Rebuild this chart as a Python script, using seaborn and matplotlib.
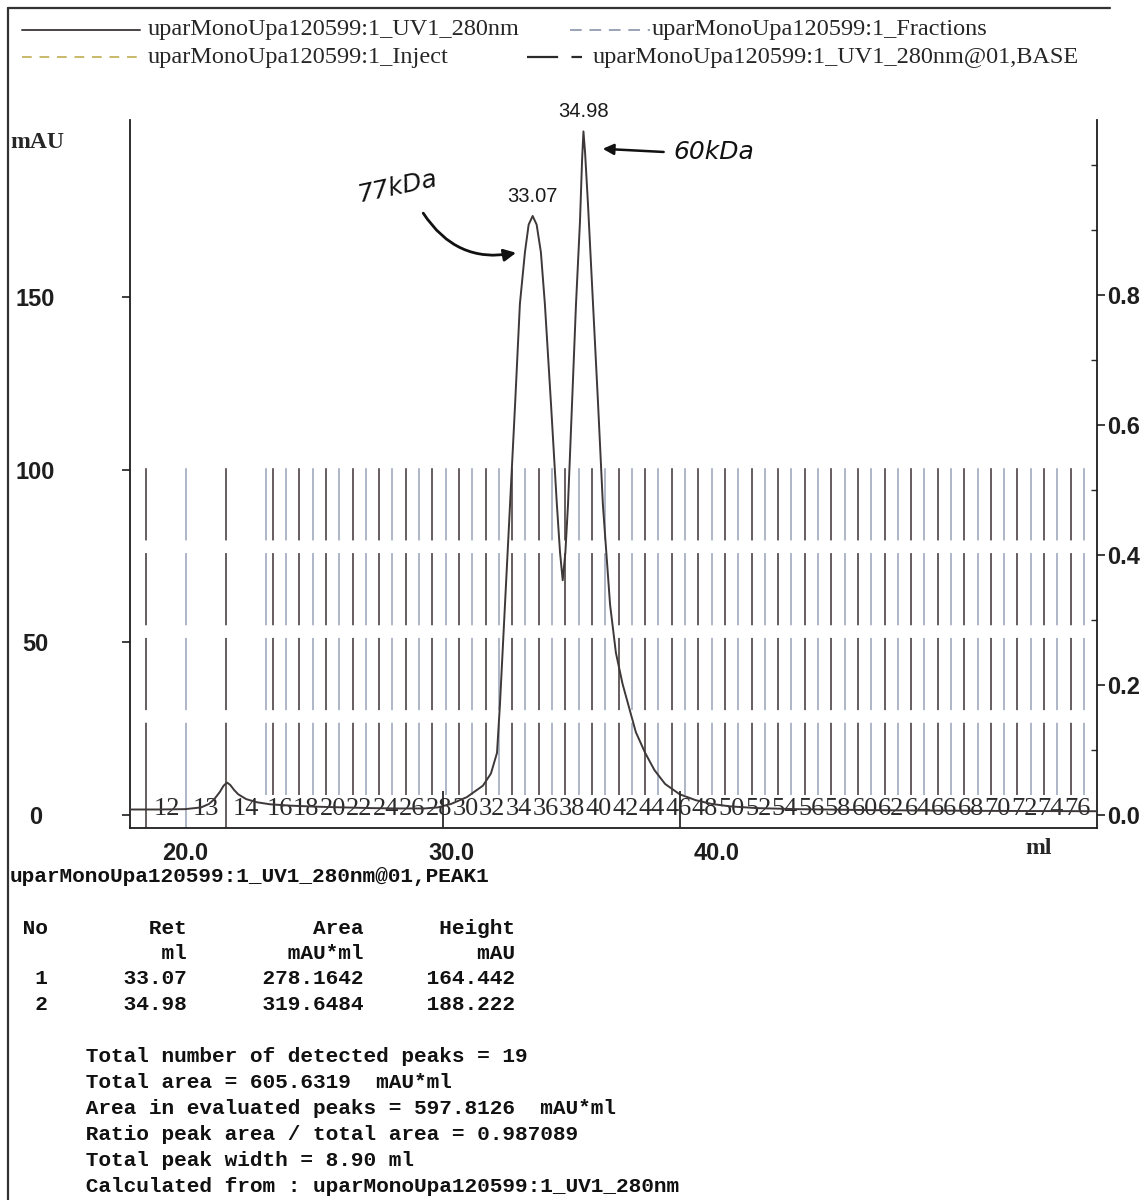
import matplotlib
matplotlib.use("Agg")
import matplotlib.pyplot as plt
import seaborn as sns
import pandas as pd
from matplotlib.lines import Line2D
from matplotlib.ticker import MultipleLocator, FixedLocator

# ---------------- data ----------------
volume_ml = [17.93, 19.0, 20.0, 20.6, 20.9, 21.1, 21.3, 21.45, 21.58, 21.7, 21.85,
             22.0, 22.3, 22.7, 23.2, 24.0, 25.0, 26.0, 27.0, 28.0, 29.0, 29.5,
             30.0, 30.6, 31.2, 31.5, 31.73, 31.84, 32.03, 32.22, 32.41, 32.59,
             32.78, 32.92, 33.07, 33.22, 33.38, 33.53, 33.76, 33.98, 34.1, 34.2,
             34.3, 34.4, 34.55, 34.7, 34.85, 34.93, 34.98, 35.04, 35.15, 35.34,
             35.53, 35.71, 35.98, 36.2, 36.45, 36.7, 36.95, 37.3, 37.65, 38.05,
             38.6, 39.2, 39.8, 40.5, 41.5, 43.0, 46.0, 50.0, 54.29]
uv_mAU = [1.6, 1.6, 1.7, 2.2, 3.2, 4.6, 6.6, 8.5, 9.4, 8.7, 7.2,
          6.0, 4.6, 3.7, 3.1, 2.7, 2.4, 2.2, 2.0, 1.9, 1.9, 2.2,
          3.2, 5.2, 8.5, 12.0, 18.0, 32.0, 61.0, 90.0, 119.0, 148.0,
          163.0, 171.0, 173.5, 171.0, 163.0, 148.0, 119.0, 90.0, 76.0, 68.0,
          76.0, 90.0, 119.0, 148.0, 172.0, 190.0, 198.0, 192.0, 177.0, 148.0,
          119.0, 90.0, 61.0, 47.0, 38.0, 31.0, 24.0, 18.0, 13.0, 9.0,
          6.0, 4.3, 3.2, 2.5, 2.0, 1.7, 1.4, 1.2, 1.1]

fraction_edges_ml = [18.55, 20.05, 21.55, 23.05,
                     23.30, 23.80, 24.30, 24.80, 25.30, 25.80, 26.30, 26.80,
                     27.30, 27.80, 28.30, 28.80, 29.30, 29.80, 30.30, 30.80,
                     31.30, 31.80, 32.30, 32.80, 33.30, 33.80, 34.30, 34.80,
                     35.30, 35.80, 36.30, 36.80, 37.30, 37.80, 38.30, 38.80,
                     39.30, 39.80, 40.30, 40.80, 41.30, 41.80, 42.30, 42.80,
                     43.30, 43.80, 44.30, 44.80, 45.30, 45.80, 46.30, 46.80,
                     47.30, 47.80, 48.30, 48.80, 49.30, 49.80, 50.30, 50.80,
                     51.30, 51.80, 52.30, 52.80, 53.30, 53.80]
first_fraction = 12
labelled_fractions = [12, 13, 14, 16, 18, 20, 22, 24, 26, 28, 30, 32, 34, 36, 38,
                      40, 42, 44, 46, 48, 50, 52, 54, 56, 58, 60, 62, 64, 66, 68,
                      70, 72, 74, 76]
fraction_mark_height = 0.545

integration_limits_ml = [29.70, 38.60]

peak_ret = ["33.07", "34.98"]
peak_x = [33.07, 34.98]
peak_top_mAU = [173.5, 198.0]
peak_area = ["278.1642", "319.6484"]
peak_height = ["164.442", "188.222"]

y_ticks_left = [0, 50, 100, 150]
y_ticks_right = [0.0, 0.2, 0.4, 0.6, 0.8]
x_ticks = [20, 30, 40, 50]
x_ticklabels = ["20.0", "30.0", "40.0", ""]

legend_names = ["uparMonoUpa120599:1_UV1_280nm", "uparMonoUpa120599:1_Fractions",
                "uparMonoUpa120599:1_Inject", "uparMonoUpa120599:1_UV1_280nm@01,BASE"]

# ---------------- styling ----------------
sns.set_style("white")
plt.rcParams["font.family"] = ["Liberation Serif", "DejaVu Sans"]

W, H = 1148, 1200
fig = plt.figure(figsize=(W / 100, H / 100), dpi=100)
fig.patch.set_facecolor("white")

def fx(px):
    return px / W

def fy(py):
    return 1 - py / H

ax_l, ax_r, ax_t, ax_b = 130, 1097, 120, 828
ax = fig.add_axes([fx(ax_l), fy(ax_b), (ax_r - ax_l) / W, (ax_b - ax_t) / H])
ax2 = ax.twinx()

TRACE = "#3e3838"
AXC = "#1e1e1e"

# fractions (right axis)
dark = "#5b5052"
light = "#a7b0c4"
for i, e in enumerate(fraction_edges_ml):
    col = dark if i % 2 == 0 else light
    ax2.vlines(e, 0.03, fraction_mark_height, colors=col,
               linewidth=1.3, linestyles=(0, (40, 7)), zorder=1)
    if i < 3:
        ax2.vlines(e, -0.02, 0.03, colors=col, linewidth=1.3, zorder=1)
for f in labelled_fractions:
    k = f - first_fraction
    c = (fraction_edges_ml[k] + fraction_edges_ml[k + 1]) / 2
    ax2.text(c, 0.0, str(f), ha="center", va="baseline", fontsize=19,
             family="Liberation Serif", color="#2a2a2a", zorder=2)

# UV trace
df = pd.DataFrame({"ml": volume_ml, "mAU": uv_mAU})
sns.lineplot(data=df, x="ml", y="mAU", ax=ax, color=TRACE, linewidth=1.4,
             estimator=None, sort=False, zorder=5)
ax.set_zorder(ax2.get_zorder() + 1)
ax.patch.set_visible(False)

# integration limits
ax.vlines(integration_limits_ml, -3.7, 7.0, colors="#2a2a2a", linewidth=1.3, zorder=6)

# peak labels
for x, yv, lab in zip(peak_x, peak_top_mAU, peak_ret):
    ax.text(x, yv + 3, lab, ha="center", va="bottom", fontsize=14.5,
            family="Liberation Sans", color="#1a1a1a")

# axes limits & ticks
ax.set_xlim(17.93, 54.29)
ax.set_ylim(-3.76, 201.3)
ax2.set_ylim(-0.02, 1.069)

ax.set_yticks(y_ticks_left)
ax.set_yticklabels([str(v) for v in y_ticks_left])
ax.tick_params(axis="y", direction="out", length=6, width=1.2, pad=62,
               labelsize=17, colors=AXC)
for lbl in ax.get_yticklabels():
    lbl.set_ha("center")
    lbl.set_fontweight("bold")
    lbl.set_family("Liberation Sans")

ax.set_xticks(x_ticks)
ax.set_xticklabels(x_ticklabels)
ax.xaxis.set_minor_locator(FixedLocator([25, 35, 45]))
ax.tick_params(axis="x", which="major", direction="out", length=7, width=1.2,
               pad=3, labelsize=17, colors=AXC)
ax.tick_params(axis="x", which="minor", direction="out", length=3, width=1.0)
for lbl in ax.get_xticklabels():
    lbl.set_fontweight("bold")
    lbl.set_family("Liberation Sans")

ax2.set_yticks(y_ticks_right)
ax2.set_yticklabels([f"{v:.1f}" for v in y_ticks_right])
ax2.yaxis.set_minor_locator(MultipleLocator(0.1))
ax2.tick_params(axis="y", which="major", direction="out", length=6, width=1.2,
                pad=1, labelsize=17, colors=AXC)
ax2.tick_params(axis="y", which="minor", direction="in", length=4, width=1.0)
for lbl in ax2.get_yticklabels():
    lbl.set_fontweight("bold")
    lbl.set_family("Liberation Sans")

ax.set_xlabel("ml", fontsize=17, fontweight="bold")
ax.xaxis.set_label_coords((1039 - ax_l) / (ax_r - ax_l), -(848 - ax_b) / (ax_b - ax_t))
ax.xaxis.label.set_va("center")
ax.set_ylabel("mAU", rotation=0, fontsize=17, fontweight="bold")
ax.yaxis.set_label_coords((37 - ax_l) / (ax_r - ax_l), (ax_b - 143) / (ax_b - ax_t))
ax.yaxis.label.set_va("center")
ax.yaxis.label.set_ha("center")
ax2.set_ylabel("")

for a in (ax, ax2):
    a.spines["top"].set_visible(False)
    for s in ("left", "right", "bottom"):
        a.spines[s].set_color(AXC)
        a.spines[s].set_linewidth(1.3)
ax.spines["right"].set_visible(False)
ax2.spines["left"].set_visible(False)
ax2.spines["bottom"].set_visible(False)
ax.grid(False)
ax2.grid(False)

# handwritten notes
ax.text(28.0, 182, "77kDa", fontsize=18, family="DejaVu Sans", style="italic",
        rotation=12, ha="center", va="center", color="#111111")
ax.annotate("", xy=(32.55, 163), xytext=(28.9, 175),
            arrowprops=dict(arrowstyle="-|>", color="#111111", lw=2.0,
                            connectionstyle="arc3,rad=0.35", mutation_scale=18))
ax.text(39.9, 192, "60kDa", fontsize=18, family="DejaVu Sans", style="italic",
        ha="center", va="center", color="#111111")
ax.annotate("", xy=(35.6, 193), xytext=(38.1, 192),
            arrowprops=dict(arrowstyle="-|>", color="#111111", lw=1.8,
                            mutation_scale=16))

# legend (manual, positioned as in the print-out)
leg_fs = 17.5
def leg_line(x0, x1, y, **kw):
    fig.add_artist(Line2D([fx(x0), fx(x1)], [fy(y), fy(y)], transform=fig.transFigure, **kw))

leg_line(22, 140, 30, color="#4a4444", lw=1.4)
fig.text(fx(148), fy(30), legend_names[0], fontsize=leg_fs, va="center", ha="left")
leg_line(570, 650, 30, color="#9aa3b5", lw=1.4, linestyle=(0, (6, 4)))
fig.text(fx(652), fy(30), legend_names[1], fontsize=leg_fs, va="center", ha="left")
leg_line(22, 140, 57, color="#c9b96a", lw=1.4, linestyle=(0, (5, 4)))
fig.text(fx(148), fy(57), legend_names[2], fontsize=leg_fs, va="center", ha="left")
leg_line(527, 582, 57, color="#2a2a2a", lw=1.6, linestyle=(0, (14, 6)))
fig.text(fx(593), fy(57), legend_names[3], fontsize=leg_fs, va="center", ha="left")

# print-out frame
fig.add_artist(Line2D([fx(8), fx(1110)], [fy(8), fy(8)], transform=fig.transFigure,
                      color="#333333", lw=1.6))
fig.add_artist(Line2D([fx(8), fx(8)], [fy(8), fy(1200)], transform=fig.transFigure,
                      color="#333333", lw=1.6))

# report text
mono = dict(family="Liberation Mono", fontsize=15.2, fontweight="bold",
            color="#111111", va="center", ha="left")
fig.text(fx(10), fy(877), "uparMonoUpa120599:1_UV1_280nm@01,PEAK1", **mono)
rows = [f"{'No':>3}{'Ret':>11}{'Area':>14}{'Height':>12}",
        f"{'':>3}{'ml':>11}{'mAU*ml':>14}{'mAU':>12}"]
for i in range(len(peak_ret)):
    rows.append(f"{str(i + 1):>3}{peak_ret[i]:>11}{peak_area[i]:>14}{peak_height[i]:>12}")
for j, r in enumerate(rows):
    fig.text(fx(10), fy(928 + 25.5 * j), r, **mono)
summary = ["Total number of detected peaks = 19",
           "Total area = 605.6319  mAU*ml",
           "Area in evaluated peaks = 597.8126  mAU*ml",
           "Ratio peak area / total area = 0.987089",
           "Total peak width = 8.90 ml",
           "Calculated from : uparMonoUpa120599:1_UV1_280nm"]
for j, s in enumerate(summary):
    fig.text(fx(10), fy(1057 + 26 * j), "      " + s, **mono)

fig.savefig("out.png", dpi=100, facecolor="white")
